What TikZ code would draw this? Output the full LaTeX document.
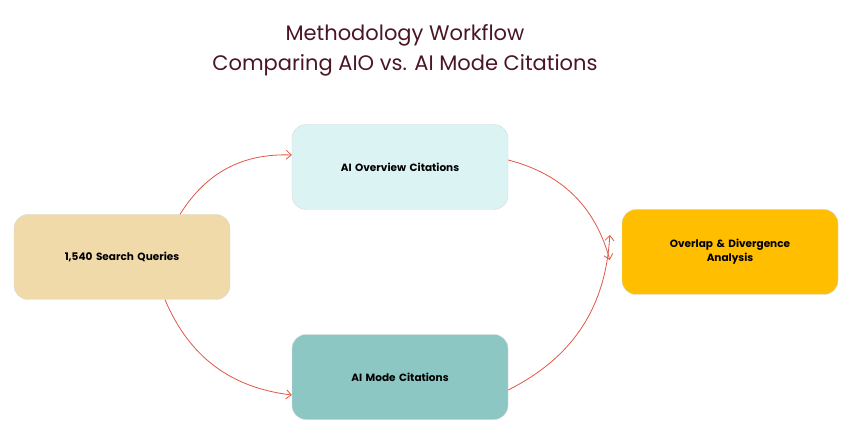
\documentclass[tikz,border=0pt]{standalone}
\usepackage{fontspec}
\setmainfont{Poppins}
\usepackage{tikz}
\usetikzlibrary{arrows.meta, positioning}
\definecolor{mytitle}{RGB}{74, 22, 36}
\definecolor{myqueries}{RGB}{240, 218, 170}
\definecolor{myoverview}{RGB}{220, 243, 243}
\definecolor{mymode}{RGB}{140, 199, 196}
\definecolor{myoverlap}{RGB}{255, 190, 0}
\definecolor{myarrow}{RGB}{226, 86, 70}

\begin{document}
\begin{tikzpicture}[
            x=1pt, y=-1pt,
            box/.style={
                rectangle,
                rounded corners=14pt,
                draw=black!15,
                fill=#1,
                text width=190pt,
                align=center,
                minimum width=216pt,
                minimum height=85pt,
                font=\fontsize{10.5}{14}\selectfont\bfseries
            },
            flow/.style={-{Straight Barb[length=5pt,width=9pt]}, draw=myarrow, thick}
        ]
            \useasboundingbox (0,0) rectangle (854,438);

            % Title
            \node[font=\fontsize{21}{30}\selectfont, text=mytitle, align=center] (title) at (405,50)
                {Methodology Workflow\\Comparing AIO vs. AI Mode Citations};

            % Nodes
            \node[box=myqueries] (queries) at (122,257) {1,540 Search Queries};
            \node[box=myoverview] (overview) at (400,167) {AI Overview Citations};
            \node[box=mymode] (mode) at (400,377) {AI Mode Citations};
            \node[box=myoverlap] (overlap) at (730,252) {Overlap \& Divergence\\Analysis};

            % Arrows
            \draw[flow] (queries.north) ++(58,0) coordinate (q1) to[bend left=30] (overview.west |- 0,155);
            \draw[flow] (queries.south) ++(43,0) coordinate (q2) to[bend right=30] (mode.west |- 0,395);
            \draw[flow] (overview.east |- 0,160) to[bend left=30] ([xshift=-12pt,yshift=-8pt]overlap.west);
            \draw[flow] (mode.east |- 0,390) to[bend right=30] ([xshift=-12pt,yshift=17pt]overlap.west);
        \end{tikzpicture}
\end{document}
